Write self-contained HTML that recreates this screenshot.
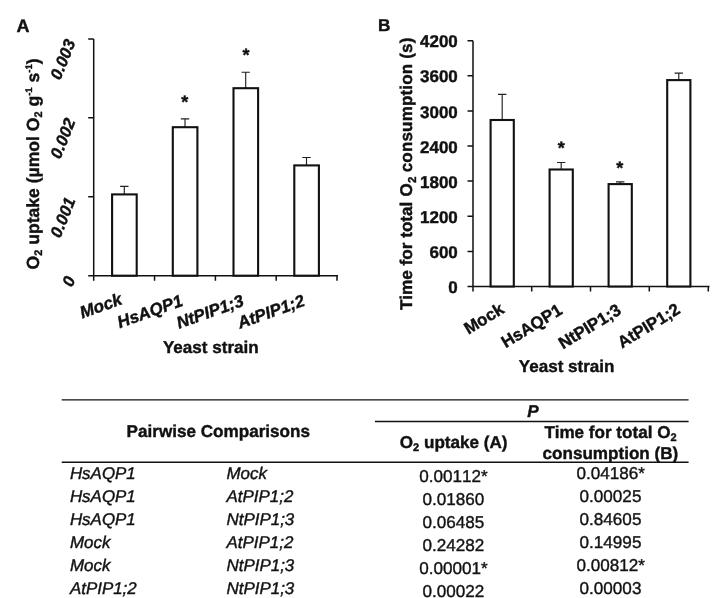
<!DOCTYPE html>
<html><head><meta charset="utf-8"><title>Figure</title>
<style>
html,body{margin:0;padding:0;background:#fff;}
body{width:726px;height:598px;overflow:hidden;font-family:"Liberation Sans",sans-serif;}
svg{display:block;position:absolute;left:0;top:0;text-rendering:geometricPrecision;will-change:transform;font-family:"Liberation Sans",sans-serif;fill:#111;}
.b{font-weight:bold;stroke:#111;stroke-width:.4;}
.i{font-style:italic;stroke:#1a1a1a;stroke-width:.42;}
.n{stroke:#1a1a1a;stroke-width:.4;font-size:17.1px;font-kerning:none;}
.bi{font-weight:bold;font-style:italic;stroke:#111;stroke-width:.4;}
.ax{stroke:#111;stroke-width:1.5;fill:none;}
.bar{stroke:#111;stroke-width:2.1;fill:#fff;}
.eb{stroke:#222;stroke-width:1.15;fill:none;}
.tl{stroke:#111;stroke-width:1.35;fill:none;}
.c{font-size:17px;}
.t{font-size:16.95px;}
</style></head><body>
<svg width="726" height="598" viewBox="0 0 726 598">
<rect x="0" y="0" width="726" height="598" fill="#fff"/>
<g class="c">
<text class="b" x="16.6" y="31.7" font-size="18">A</text>
<path class="ax" d="M93.7 38.9V275.7M88.2 38.9H93.7M88.2 117.8H93.7M88.2 196.8H93.7M88.2 275.7H93.7M88.2 275.7H338M93.7 275.7V280.7M154.55 275.7V280.7M215.4 275.7V280.7M276.2 275.7V280.7M337.0 275.7V280.7"/>
<path class="eb" d="M124.3 194.4V186.3M120.1 186.3H128.5"/>
<rect class="bar" x="112.1" y="194.4" width="24.6" height="81.29999999999998"/>
<path class="eb" d="M185.0 127.2V118.9M180.8 118.9H189.2"/>
<rect class="bar" x="172.8" y="127.2" width="24.6" height="148.5"/>
<path class="eb" d="M245.7 88.2V72.2M241.5 72.2H249.89999999999998"/>
<rect class="bar" x="233.5" y="88.2" width="24.6" height="187.5"/>
<path class="eb" d="M306.5 165.4V157.5M302.3 157.5H310.7"/>
<rect class="bar" x="294.3" y="165.4" width="24.6" height="110.29999999999998"/>
<text class="b" x="184.7" y="108.0" text-anchor="middle" font-size="18">*</text>
<text class="b" x="245.9" y="60.8" text-anchor="middle" font-size="18">*</text>
<text class="bi" transform="translate(75.8 42.3) rotate(-68)" text-anchor="end" font-size="16.6">0.003</text>
<text class="bi" transform="translate(75.8 121.2) rotate(-68)" text-anchor="end" font-size="16.6">0.002</text>
<text class="bi" transform="translate(75.8 200.20000000000002) rotate(-68)" text-anchor="end" font-size="16.6">0.001</text>
<text class="bi" transform="translate(75.8 279.09999999999997) rotate(-68)" text-anchor="end" font-size="16.6">0</text>
<text class="b" transform="translate(39 269.4) rotate(-90)" textLength="211" lengthAdjust="spacingAndGlyphs" font-size="17.6">O<tspan font-size="11" dy="3">2</tspan><tspan dy="-3"> uptake (µmol O</tspan><tspan font-size="11" dy="3">2</tspan><tspan dy="-3"> g</tspan><tspan font-size="9.5" dy="-7">-1</tspan><tspan dy="7"> s</tspan><tspan font-size="9.5" dy="-7">-1</tspan><tspan dy="7">)</tspan></text>
<text class="bi" transform="translate(123.2 303.8) rotate(-19.7)" text-anchor="end">Mock</text>
<text class="bi" transform="translate(183.9 305.3) rotate(-19.7)" text-anchor="end">HsAQP1</text>
<text class="bi" transform="translate(244.8 305.2) rotate(-19.7)" text-anchor="end">NtPIP1;3</text>
<text class="bi" transform="translate(305.8 305.2) rotate(-19.7)" text-anchor="end">AtPIP1;2</text>
<text class="b" x="162.9" y="352.6" textLength="95.8" lengthAdjust="spacingAndGlyphs">Yeast strain</text>
</g>
<g class="c">
<text class="b" x="378.0" y="31.0" font-size="17.2">B</text>
<path class="ax" d="M473.0 40.7V286.5M467.5 251.4H473.0M467.5 216.3H473.0M467.5 181.1H473.0M467.5 146.0H473.0M467.5 110.9H473.0M467.5 75.8H473.0M467.5 40.7H473.0M467.5 286.5H709.5M473.0 286.5V291.6M531.7 286.5V291.6M590.5 286.5V291.6M649.3 286.5V291.6M708.3 286.5V291.6"/>
<path class="eb" d="M502.2 120.0V94.3M498.0 94.3H506.4"/>
<rect class="bar" x="490.6" y="120.0" width="23.2" height="166.5"/>
<path class="eb" d="M561.2 169.5V162.5M557.0 162.5H565.4000000000001"/>
<rect class="bar" x="549.6" y="169.5" width="23.2" height="117.0"/>
<path class="eb" d="M620.2 184.1V181.8M616.0 181.8H624.4000000000001"/>
<rect class="bar" x="608.6" y="184.1" width="23.2" height="102.4"/>
<path class="eb" d="M678.8 80.1V73.1M674.5999999999999 73.1H683.0"/>
<rect class="bar" x="667.2" y="80.1" width="23.2" height="206.4"/>
<text class="b" x="561.2" y="154.3" text-anchor="middle" font-size="18">*</text>
<text class="b" x="619.8" y="173.7" text-anchor="middle" font-size="18">*</text>
<text class="b" x="457.8" y="293.2" text-anchor="end">0</text>
<text class="b" x="457.8" y="258.08" text-anchor="end">600</text>
<text class="b" x="457.8" y="222.95999999999998" text-anchor="end">1200</text>
<text class="b" x="457.8" y="187.84" text-anchor="end">1800</text>
<text class="b" x="457.8" y="152.72" text-anchor="end">2400</text>
<text class="b" x="457.8" y="117.60000000000001" text-anchor="end">3000</text>
<text class="b" x="457.8" y="82.48000000000003" text-anchor="end">3600</text>
<text class="b" x="457.8" y="47.36000000000003" text-anchor="end">4200</text>
<text class="b" transform="translate(412.3 310.0) rotate(-90)" textLength="108.4" lengthAdjust="spacingAndGlyphs">Time for total</text>
<text class="b" transform="translate(412.3 196.6) rotate(-90)">O</text>
<text class="b" transform="translate(416.2 183.1) rotate(-90)" font-size="11.5">2</text>
<text class="b" transform="translate(412.3 172.3) rotate(-90)" textLength="134.7" lengthAdjust="spacing">consumption (s)</text>
<text class="b" transform="translate(505.2 312.2) rotate(-31.5)" text-anchor="end" font-size="16.9">Mock</text>
<text class="b" transform="translate(563.4 313.0) rotate(-31.5)" text-anchor="end" font-size="16.9">HsAQP1</text>
<text class="b" transform="translate(622.2 313.2) rotate(-31.5)" text-anchor="end" font-size="16.9">NtPIP1;3</text>
<text class="b" transform="translate(681.2 312.4) rotate(-31.5)" text-anchor="end" font-size="16.9">AtPIP1;2</text>
<text class="b" x="518.8" y="371.7" textLength="95.7" lengthAdjust="spacingAndGlyphs">Yeast strain</text>
</g>
<g class="t">
<path class="tl" d="M61.7 399.8H688.6M375 421.5H688.6M61.7 462.2H688.6"/>
<text class="b" x="126.6" y="437.0" font-size="17.1">Pairwise Comparisons</text>
<text class="bi" x="527.3" y="416.8" font-size="17.1">P</text>
<text class="b" x="399.8" y="447.8" font-size="17.1">O<tspan font-size="11" dy="3">2</tspan><tspan dy="-3"> uptake (A)</tspan></text>
<text class="b" x="544.5" y="437.9" font-size="17.1">Time for total O<tspan font-size="11" dy="3">2</tspan></text>
<text class="b" x="542.5" y="459" font-size="17.1">consumption (B)</text>
<text class="i" x="69.9" y="478.8">HsAQP1</text>
<text class="i" x="226.5" y="478.8">Mock</text>
<text class="n" x="419.3" y="481.8">0.00112*</text>
<text class="n" x="576.4" y="478.8">0.04186*</text>
<text class="i" x="69.9" y="501.9">HsAQP1</text>
<text class="i" x="226.5" y="501.9">AtPIP1;2</text>
<text class="n" x="422.4" y="504.9">0.01860</text>
<text class="n" x="579.6" y="501.9">0.00025</text>
<text class="i" x="69.9" y="524.9">HsAQP1</text>
<text class="i" x="226.5" y="524.9">NtPIP1;3</text>
<text class="n" x="422.4" y="527.9">0.06485</text>
<text class="n" x="579.6" y="524.9">0.84605</text>
<text class="i" x="69.9" y="548.0">Mock</text>
<text class="i" x="226.5" y="548.0">AtPIP1;2</text>
<text class="n" x="422.4" y="551.0">0.24282</text>
<text class="n" x="579.6" y="548.0">0.14995</text>
<text class="i" x="69.9" y="571.0">Mock</text>
<text class="i" x="226.5" y="571.0">NtPIP1;3</text>
<text class="n" x="419.3" y="574.0">0.00001*</text>
<text class="n" x="576.4" y="571.0">0.00812*</text>
<text class="i" x="69.9" y="594.0">AtPIP1;2</text>
<text class="i" x="226.5" y="594.0">NtPIP1;3</text>
<text class="n" x="422.4" y="597.0">0.00022</text>
<text class="n" x="579.6" y="594.0">0.00003</text>
</g>
</svg></body></html>
